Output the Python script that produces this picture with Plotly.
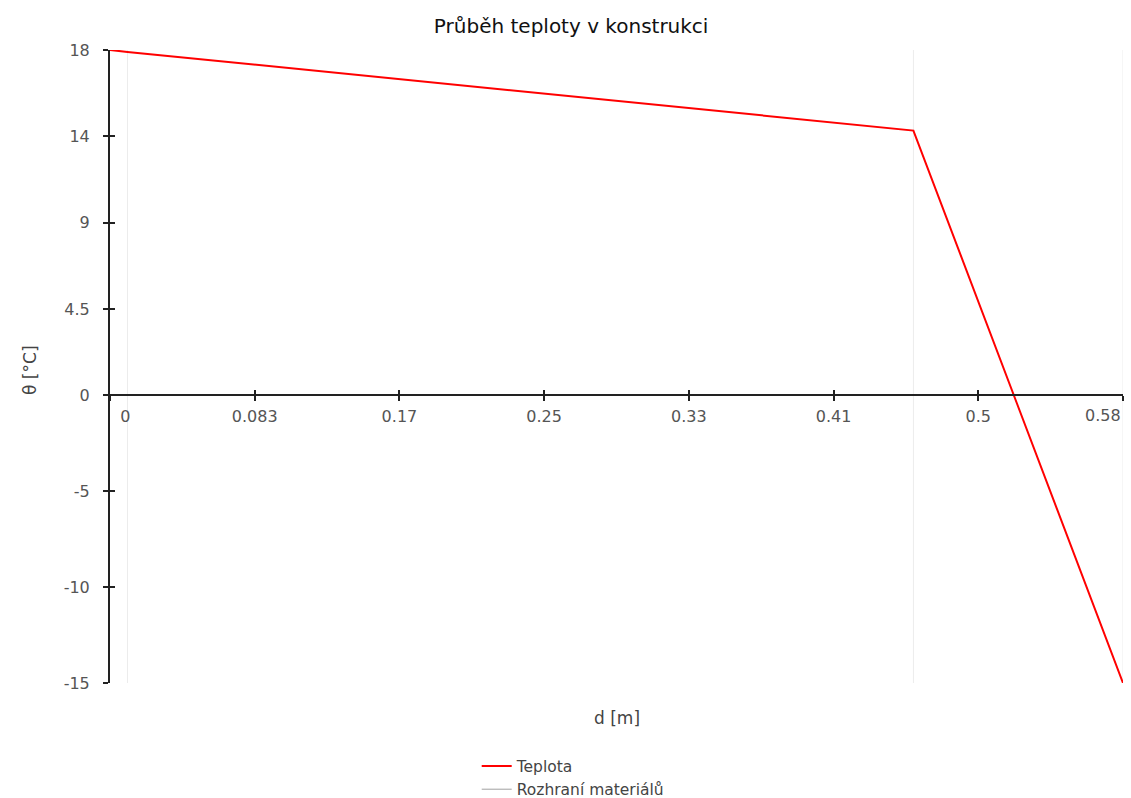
import plotly.graph_objects as go

# Data
d_m = [0.0, 0.01, 0.46, 0.58]
teplota = [18.0, 17.9, 13.8, -15.0]
interfaces = [0.01, 0.46, 0.58]

x_tickvals = [0, 0.58/7, 2*0.58/7, 3*0.58/7, 4*0.58/7, 5*0.58/7, 6*0.58/7, 0.58]
x_ticktext = ["\u2007\u2007\u20070", "0.083", "0.17", "0.25", "0.33", "0.41", "0.5", ""]
last_x_label = "0.58"
y_tickvals = [18, 13.5, 9, 4.5, 0, -5, -10, -15]
y_ticktext = ["18", "14", "9", "4.5", "0", "-5", "-10", "-15"]

y_min, y_max = -15, 18
x_min, x_max = 0, 0.58

FONT = "DejaVu Sans"

ix, iy = [], []
for v in interfaces:
    ix += [v, v, None]
    iy += [y_min, y_max, None]

fig = go.Figure()
fig.add_trace(go.Scatter(x=ix, y=iy, mode="lines", line=dict(color="#ececec", width=1),
                         showlegend=False, hoverinfo="skip"))
fig.add_trace(go.Scatter(x=d_m, y=teplota, mode="lines", name="Teplota",
                         line=dict(color="#ff0000", width=2)))
fig.add_trace(go.Scatter(x=[None], y=[None], mode="lines", name="Rozhraní materiálů",
                         line=dict(color="#a0a0a0", width=1)))

zero_pos = (0 - y_min) / (y_max - y_min)

fig.update_layout(
    width=1131, height=798,
    margin=dict(l=110, r=8, t=50, b=115, autoexpand=False),
    paper_bgcolor="white", plot_bgcolor="white",
    font=dict(family=FONT, size=16, color="#555"),
    title=dict(text="Průběh teploty v konstrukci", x=0.505, xref="container", xanchor="center",
               y=1 - 26/798, yref="container", yanchor="middle",
               font=dict(family=FONT, size=20, color="#111")),
    xaxis=dict(range=[x_min, x_max], anchor="free", position=zero_pos,
               showgrid=False, zeroline=False, showline=True, linecolor="#222", linewidth=2,
               ticks="outside", ticklen=5, tickwidth=2, tickcolor="#222",
               tickvals=x_tickvals, ticktext=x_ticktext, ticklabelstandoff=2,
               ticklabeloverflow="allow", tickfont=dict(family=FONT, size=16, color="#555")),
    xaxis2=dict(range=[x_min, x_max], anchor="free", position=zero_pos, overlaying="x",
                showgrid=False, zeroline=False, showline=False,
                ticks="inside", ticklen=5, tickwidth=2, tickcolor="#222",
                tickvals=x_tickvals, showticklabels=False),
    yaxis=dict(range=[y_min, y_max], showgrid=False, zeroline=False, showline=True,
               linecolor="#222", linewidth=2, ticks="outside", ticklen=5, tickwidth=2,
               tickcolor="#222", tickvals=y_tickvals, ticktext=y_ticktext,
               ticklabelstandoff=10, ticklabeloverflow="allow",
               tickfont=dict(family=FONT, size=16, color="#555")),
    yaxis2=dict(range=[y_min, y_max], overlaying="y", showgrid=False, zeroline=False,
                showline=False, ticks="inside", ticklen=5, tickwidth=2, tickcolor="#222",
                tickvals=y_tickvals, showticklabels=False),
    legend=dict(x=0.362, y=-0.105, xanchor="left", yanchor="top", orientation="v",
                font=dict(family=FONT, size=15.5, color="#444"), itemwidth=30,
                tracegroupgap=0, bgcolor="rgba(0,0,0,0)"),
    annotations=[
        dict(text=last_x_label, x=x_max, y=0, xref="x", yref="y", xanchor="right",
             yanchor="top", yshift=-9, showarrow=False,
             font=dict(family=FONT, size=16, color="#555")),
        dict(text="d [m]", x=0.5, y=(683-730)/633, xref="paper", yref="paper",
             showarrow=False, font=dict(family=FONT, size=17, color="#444")),
        dict(text="θ [°C]", x=(18-110)/1013, y=0.493, xref="paper", yref="paper",
             textangle=-90, showarrow=False, font=dict(family=FONT, size=17, color="#444")),
    ],
)
# dummy trace to activate overlay axes
fig.add_trace(go.Scatter(x=[None], y=[None], xaxis="x2", yaxis="y2", showlegend=False, hoverinfo="skip"))

fig.write_html("out.html")
